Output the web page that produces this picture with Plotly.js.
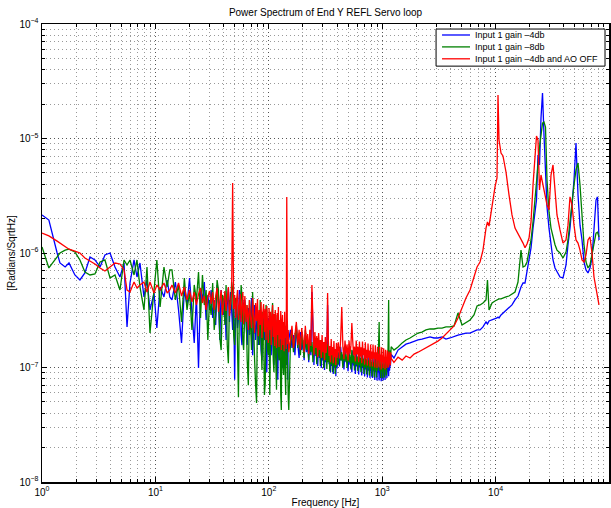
<!DOCTYPE html>
<html>
<head>
<meta charset="utf-8">
<script src="https://cdn.plot.ly/plotly-3.0.1.min.js"></script>
<style>
  html, body { margin: 0; padding: 0; background: #fff; }
  #chart { width: 611px; height: 508px; }
</style>
</head>
<body>
<div id="chart"></div>
<script>
// Frequency bins [Hz], shared by the three measurements
const freqHz = [
  // 1 - 13 Hz
  1, 1.15, 1.36, 1.44, 1.6, 1.73, 1.95, 2.16, 2.39, 2.65, 2.93, 3.25, 3.59, 3.98, 4.4, 4.87,
  5.29, 5.62, 5.97, 6.48, 6.88, 7.31, 7.93, 8.43, 8.96, 9.72, 10.3, 11, 11.9, 12.7, 13.4,
  // 14 - 60 Hz
  14, 15, 16, 17, 18, 19, 20, 21, 22, 23, 24, 25, 26, 27, 28, 29, 30,
  31, 32, 33, 34, 35, 36, 37, 38, 39, 40, 41, 42, 43, 44, 45, 46, 47, 48, 49, 50,
  51, 52, 53, 54, 55, 56, 57, 58, 59, 60,
  // 61.5 - 150 Hz
  61.5, 63, 64.5, 66, 67.5, 69, 70.5, 72, 73.5, 75, 76.5, 78, 79.5, 81, 82.5, 84, 85.5, 87,
  88.5, 90, 91.5, 93, 94.5, 96, 97.5, 99, 100.5, 102, 103.5, 105, 106.5, 108, 109.5, 111,
  112.5, 114, 115.5, 117, 118.5, 120, 121.5, 123, 124.5, 126, 127.5, 129, 130.5, 132, 133.5,
  135, 136.5, 138, 139.5, 141, 142.5, 144, 145.5, 147, 148.5, 150,
  // 155 - 400 Hz
  155, 160, 165, 170, 175, 180, 185, 190, 195, 200, 205, 210, 215, 220, 225, 230, 235, 240,
  245, 250, 255, 260, 265, 270, 275, 280, 285, 290, 295, 300, 305, 310, 315, 320, 325, 330,
  335, 340, 345, 350, 355, 360, 365, 370, 375, 380, 385, 390, 395, 400,
  // 410 - 1200 Hz
  410, 420, 430, 440, 450, 460, 470, 480, 490, 500, 510, 520, 530, 540, 550, 560, 570, 580,
  590, 600, 610, 620, 630, 640, 650, 660, 670, 680, 690, 700, 710, 720, 730, 740, 750, 760,
  770, 780, 790, 800, 810, 820, 830, 840, 850, 860, 870, 880, 890, 900, 910, 920, 930, 940,
  950, 960, 970, 980, 990, 1000, 1010, 1020, 1030, 1040, 1050, 1060, 1070, 1080, 1090, 1100,
  1110, 1120, 1130, 1140, 1150, 1160, 1170, 1180, 1190, 1200,
  // 1.2 - 82 kHz
  1270, 1380, 1500, 1620, 1760, 1910, 2070, 2240, 2430, 2640, 2860, 3100, 3370, 3650, 3960,
  4300, 4660, 5060, 5480, 5950, 6450, 6860, 7290, 7740, 8230, 8480, 8750, 9300, 9880, 10290,
  10500, 10720, 11160, 11620, 12350, 13130, 13950, 14830, 15760, 16750, 17450, 18170, 18920,
  19710, 20530, 21380, 22250, 22940, 23650, 24390, 25140, 25920, 26720, 27540, 28400, 29570,
  30800, 32080, 33410, 34790, 36980, 39300, 41770, 43490, 45300, 47180, 49140, 51170, 53300,
  55510, 57810, 60190, 62690, 65280, 67990, 70800, 73740, 76810, 79180, 81630
];

// Input 1 gain -4db  [Radians/SqrtHz]
const asdGainM4 = [
  // 1 - 13 Hz
  2.15e-6, 1.94e-6, 1.0e-6, 8.18e-7, 7.55e-7, 8.18e-7, 6.43e-7, 5.81e-7, 6.69e-7, 9.23e-7, 8.69e-7,
  7.55e-7, 9.61e-7, 1.0e-6, 7.55e-7, 6.17e-7, 8.18e-7, 2.26e-7, 5.47e-7, 8.69e-7, 6.17e-7, 8.18e-7,
  4.13e-7, 5.81e-7, 3.18e-7, 4.47e-7, 2.21e-7, 5.05e-7, 4.13e-7, 5.81e-7, 4.13e-7,
  // 14 - 60 Hz
  3.89e-7, 5.58e-7, 3.18e-7, 1.64e-7, 4.75e-7, 3.52e-7, 6.05e-7, 3.06e-7, 1.64e-7, 4.21e-7, 9.9e-8,
  4.95e-7, 3.89e-7, 5.58e-7, 2.60e-7, 4.30e-7, 3.18e-7,
  4.75e-7, 2.71e-7, 3.89e-7, 2.35e-7, 5.26e-7, 3.89e-7, 1.74e-7, 4.75e-7, 3.06e-7, 2.88e-7,
  4.30e-7, 1.74e-7, 3.52e-7, 4.95e-7, 2.50e-7, 4.56e-7, 3.18e-7, 2.13e-7, 4.05e-7, 7.8e-8,
  3.52e-7, 3.89e-7, 2.21e-7, 2.71e-7, 4.75e-7, 4.30e-7, 1.92e-7, 1.57e-7, 3.89e-7, 3.18e-7,
  // 61.5 - 150 Hz
  3.89e-7, 2.35e-7, 1.57e-7, 3.31e-7, 1.92e-7, 2.71e-7, 4.05e-7, 1.28e-7, 2.60e-7, 3.52e-7,
  1.74e-7, 2.21e-7, 3.18e-7, 1.57e-7, 2.71e-7, 3.06e-7, 1.42e-7, 1.16e-7, 2.88e-7, 2.50e-7,
  1.74e-7, 1.81e-7, 3.18e-7, 9.1e-8, 2.35e-7, 2.71e-7, 1.48e-7, 1.74e-7, 2.60e-7, 1.28e-7,
  2.13e-7, 2.35e-7, 1.42e-7, 1.05e-7, 2.50e-7, 2.13e-7, 1.28e-7, 1.57e-7, 2.60e-7, 7.8e-8,
  1.92e-7, 2.21e-7, 1.16e-7, 1.42e-7, 2.35e-7, 1.74e-7, 1.11e-7, 9.9e-8, 2.13e-7, 2.04e-7,
  1.21e-7, 1.28e-7, 2.21e-7, 1.57e-7, 1.05e-7, 2.35e-7, 1.74e-7, 7.8e-8, 1.92e-7, 1.74e-7,
  // 155 - 400 Hz
  2.13e-7, 1.48e-7, 1.92e-7, 1.28e-7, 2.21e-7, 1.67e-7, 1.21e-7, 2.04e-7, 1.42e-7, 1.74e-7,
  1.16e-7, 1.92e-7, 1.36e-7, 1.60e-7, 1.11e-7, 1.88e-7, 1.28e-7, 4.56e-7, 1.57e-7, 1.05e-7,
  1.81e-7, 1.26e-7, 1.48e-7, 1.03e-7, 1.74e-7, 1.21e-7, 1.42e-7, 9.9e-8, 1.67e-7, 1.16e-7,
  1.36e-7, 9.5e-8, 1.60e-7, 1.11e-7, 1.31e-7, 3.52e-7, 1.54e-7, 1.07e-7, 1.26e-7, 9.1e-8,
  1.48e-7, 1.03e-7, 1.23e-7, 8.8e-8, 1.45e-7, 1.01e-7, 1.21e-7, 8.4e-8, 1.39e-7, 9.9e-8,
  // 410 - 1200 Hz
  1.36e-7, 1.02e-7, 1.52e-7, 1.15e-7, 1.30e-7, 9.6e-8, 1.47e-7, 1.11e-7, 1.24e-7, 9.3e-8,
  1.43e-7, 1.06e-7, 1.22e-7, 9.1e-8, 1.41e-7, 1.04e-7, 1.20e-7, 8.8e-8, 1.38e-7, 1.02e-7,
  1.18e-7, 8.7e-8, 1.36e-7, 1.00e-7, 1.15e-7, 8.5e-8, 1.32e-7, 9.9e-8, 1.13e-7, 8.4e-8,
  1.30e-7, 9.6e-8, 1.11e-7, 8.2e-8, 1.28e-7, 9.4e-8, 1.09e-7, 8.1e-8, 1.24e-7, 9.3e-8,
  1.06e-7, 8.1e-8, 1.22e-7, 9.3e-8, 1.04e-7, 7.8e-8, 1.20e-7, 9.1e-8, 1.04e-7, 7.7e-8,
  1.20e-7, 9.1e-8, 1.02e-7, 7.7e-8, 1.18e-7, 8.8e-8, 1.02e-7, 7.6e-8, 1.15e-7, 8.8e-8,
  1.00e-7, 7.7e-8, 1.15e-7, 8.7e-8, 1.00e-7, 7.8e-8, 1.13e-7, 8.7e-8, 9.9e-8, 8.1e-8,
  1.15e-7, 9.1e-8, 1.02e-7, 8.4e-8, 1.18e-7, 9.4e-8, 1.06e-7, 1.02e-7, 1.24e-7, 1.30e-7,
  // 1.2 - 82 kHz
  1.21e-7, 1.42e-7, 1.51e-7, 1.60e-7, 1.64e-7, 1.70e-7, 1.74e-7, 1.77e-7, 1.81e-7, 1.85e-7,
  1.81e-7, 1.81e-7, 1.85e-7, 1.77e-7, 1.81e-7, 1.88e-7, 1.92e-7, 1.96e-7, 2.00e-7, 2.00e-7,
  2.08e-7, 2.13e-7, 2.13e-7, 2.26e-7, 2.50e-7, 2.40e-7, 2.55e-7, 2.60e-7, 2.65e-7, 2.71e-7,
  2.76e-7, 2.71e-7, 2.88e-7, 2.99e-7, 3.18e-7, 3.38e-7, 3.52e-7, 3.89e-7, 4.21e-7, 5.05e-7,
  5.47e-7, 5.47e-7, 6.82e-7, 8.35e-7, 1.11e-6, 1.65e-6, 2.15e-6, 2.90e-6, 7.18e-6, 5.87e-6,
  1.51e-5, 2.50e-5, 1.07e-5, 5.31e-6, 2.52e-6, 1.65e-6, 1.18e-6, 8.69e-7, 7.40e-7, 6.82e-7,
  6.17e-7, 6.05e-7, 7.86e-7, 1.18e-6, 1.65e-6, 2.63e-6, 4.34e-6, 9.13e-6, 3.22e-6, 1.75e-6,
  1.30e-6, 8.35e-7, 7.11e-7, 6.69e-7, 7.40e-7, 9.04e-7, 1.59e-6, 2.90e-6, 3.09e-6, 1.30e-6
];

// Input 1 gain -8db  [Radians/SqrtHz]
const asdGainM8 = [
  // 1 - 13 Hz
  1.13e-6, 7.40e-7, 9.23e-7, 1.0e-6, 1.06e-6, 1.08e-6, 1.02e-6, 8.69e-7, 6.82e-7, 6.43e-7, 6.56e-7,
  8.35e-7, 8.69e-7, 6.05e-7, 6.43e-7, 4.75e-7, 8.69e-7, 7.86e-7, 8.69e-7, 6.43e-7, 8.69e-7, 5.05e-7,
  3.18e-7, 7.55e-7, 2.00e-7, 4.75e-7, 8.69e-7, 3.38e-7, 7.55e-7, 5.05e-7, 7.11e-7,
  // 14 - 60 Hz
  7.11e-7, 3.89e-7, 5.26e-7, 2.50e-7, 6.05e-7, 3.18e-7, 4.56e-7, 2.13e-7, 5.26e-7, 3.89e-7, 6.82e-7,
  2.71e-7, 6.43e-7, 3.52e-7, 4.75e-7, 1.74e-7, 3.89e-7,
  2.88e-7, 5.47e-7, 2.13e-7, 2.88e-7, 5.81e-7, 4.75e-7, 1.81e-7, 1.42e-7, 4.30e-7, 3.89e-7,
  2.35e-7, 5.26e-7, 1.57e-7, 1.09e-7, 3.89e-7, 3.18e-7, 5.58e-7, 4.75e-7, 1.92e-7, 1.57e-7,
  4.05e-7, 3.89e-7, 1.16e-7, 5.5e-8, 3.52e-7, 2.88e-7, 5.26e-7, 4.30e-7, 1.74e-7, 1.42e-7,
  // 61.5 - 150 Hz
  3.18e-7, 3.52e-7, 1.16e-7, 7.0e-8, 3.89e-7, 2.60e-7, 1.42e-7, 4.56e-7, 1.92e-7, 1.16e-7,
  7.0e-8, 4.9e-8, 3.18e-7, 2.71e-7, 1.57e-7, 3.89e-7, 1.81e-7, 9.5e-8, 3.06e-7, 2.13e-7,
  5.75e-8, 7.3e-8, 3.52e-7, 3.18e-7, 1.42e-7, 1.28e-7, 2.35e-7, 5.75e-8, 1.74e-7, 2.35e-7,
  3.18e-7, 3.66e-7, 1.16e-7, 9.1e-8, 2.71e-7, 1.74e-7, 1.05e-7, 6.4e-8, 2.88e-7, 2.60e-7,
  1.36e-7, 1.16e-7, 2.13e-7, 1.57e-7, 5.75e-8, 4.25e-8, 2.50e-7, 2.13e-7, 9.9e-8, 8.6e-8,
  1.92e-7, 1.42e-7, 7.8e-8, 5.75e-8, 2.13e-7, 1.74e-7, 1.16e-7, 9.1e-8, 5.4e-8, 4.25e-8,
  // 155 - 400 Hz
  1.57e-7, 2.13e-7, 1.36e-7, 1.81e-7, 2.35e-7, 1.48e-7, 1.92e-7, 1.28e-7, 2.04e-7, 1.57e-7,
  1.21e-7, 2.13e-7, 1.42e-7, 1.74e-7, 1.16e-7, 1.96e-7, 1.36e-7, 1.67e-7, 1.11e-7, 1.88e-7,
  1.31e-7, 1.60e-7, 1.07e-7, 1.81e-7, 1.26e-7, 1.54e-7, 1.03e-7, 1.74e-7, 1.21e-7, 1.48e-7,
  9.9e-8, 1.67e-7, 1.16e-7, 1.42e-7, 9.7e-8, 1.60e-7, 1.11e-7, 1.36e-7, 9.3e-8, 1.54e-7,
  1.07e-7, 1.31e-7, 9.1e-8, 1.48e-7, 1.03e-7, 1.26e-7, 8.8e-8, 1.42e-7, 1.01e-7, 1.23e-7,
  // 410 - 1200 Hz
  1.06e-7, 1.52e-7, 1.15e-7, 1.36e-7, 1.00e-7, 1.50e-7, 1.13e-7, 1.32e-7, 9.9e-8, 1.47e-7,
  1.11e-7, 1.30e-7, 9.6e-8, 1.43e-7, 1.09e-7, 1.28e-7, 9.4e-8, 1.41e-7, 1.06e-7, 1.24e-7,
  9.3e-8, 1.38e-7, 1.04e-7, 1.22e-7, 9.1e-8, 1.36e-7, 1.02e-7, 1.20e-7, 8.8e-8, 1.32e-7,
  1.00e-7, 1.18e-7, 8.7e-8, 1.30e-7, 1.00e-7, 1.15e-7, 8.5e-8, 1.28e-7, 9.9e-8, 1.13e-7,
  8.4e-8, 1.24e-7, 9.6e-8, 1.11e-7, 8.2e-8, 1.24e-7, 9.4e-8, 1.09e-7, 8.2e-8, 1.22e-7,
  9.4e-8, 1.09e-7, 1.59e-7, 2.50e-7, 9.3e-8, 1.06e-7, 8.1e-8, 1.20e-7, 9.3e-8, 1.06e-7,
  8.1e-8, 1.20e-7, 9.4e-8, 1.06e-7, 8.2e-8, 1.22e-7, 9.6e-8, 1.09e-7, 8.5e-8, 1.24e-7,
  1.00e-7, 1.15e-7, 1.76e-7, 3.89e-7, 1.06e-7, 1.24e-7, 1.11e-7, 1.41e-7, 1.30e-7, 1.52e-7,
  // 1.2 - 82 kHz
  1.42e-7, 1.51e-7, 1.64e-7, 1.74e-7, 1.81e-7, 1.92e-7, 2.00e-7, 2.04e-7, 2.13e-7, 2.17e-7,
  2.17e-7, 2.21e-7, 2.21e-7, 2.26e-7, 2.26e-7, 2.31e-7, 2.99e-7, 2.35e-7, 2.45e-7, 2.60e-7,
  2.88e-7, 3.45e-7, 3.52e-7, 3.66e-7, 3.89e-7, 5.81e-7, 3.18e-7, 3.66e-7, 3.81e-7, 3.89e-7,
  3.89e-7, 3.97e-7, 3.97e-7, 4.05e-7, 4.13e-7, 4.21e-7, 4.38e-7, 4.56e-7, 5.58e-7, 1.06e-6,
  7.55e-7, 7.70e-7, 8.35e-7, 1.02e-6, 1.30e-6, 1.87e-6, 2.90e-6, 3.56e-6, 5.87e-6, 8.43e-6,
  1.07e-5, 1.36e-5, 1.39e-5, 1.26e-5, 4.34e-6, 2.29e-6, 1.65e-6, 1.38e-6, 1.18e-6, 1.06e-6,
  1.0e-6, 9.04e-7, 1.02e-6, 1.30e-6, 1.94e-6, 2.90e-6, 3.93e-6, 5.31e-6, 6.11e-6, 3.93e-6,
  2.15e-6, 1.18e-6, 8.35e-7, 7.40e-7, 7.86e-7, 9.61e-7, 1.18e-6, 1.49e-6, 1.52e-6, 1.38e-6
];

// Input 1 gain -4db with AO off  [Radians/SqrtHz]
const asdAoOff = [
  // 1 - 13 Hz
  1.49e-6, 1.41e-6, 1.27e-6, 1.22e-6, 1.13e-6, 1.08e-6, 1.04e-6, 1.0e-6, 9.04e-7, 8.51e-7, 8.02e-7,
  7.40e-7, 6.96e-7, 7.55e-7, 8.18e-7, 8.02e-7, 7.11e-7, 4.75e-7, 4.56e-7, 5.58e-7, 4.95e-7, 5.26e-7,
  5.58e-7, 4.56e-7, 5.58e-7, 4.47e-7, 5.26e-7, 4.75e-7, 5.47e-7, 4.47e-7, 4.75e-7,
  // 14 - 60 Hz
  5.26e-7, 4.47e-7, 5.47e-7, 4.21e-7, 5.05e-7, 3.89e-7, 4.75e-7, 3.74e-7, 4.56e-7, 3.52e-7,
  4.38e-7, 4.95e-7, 3.66e-7, 4.21e-7, 3.18e-7, 4.13e-7, 4.66e-7,
  3.59e-7, 4.56e-7, 3.18e-7, 4.21e-7, 4.95e-7, 3.06e-7, 3.97e-7, 4.75e-7, 2.88e-7, 3.74e-7,
  4.66e-7, 3.12e-7, 4.13e-7, 5.05e-7, 2.82e-7, 3.66e-7, 4.47e-7, 4.09e-6, 3.25e-7, 4.30e-7,
  2.71e-7, 3.89e-7, 4.75e-7, 2.60e-7, 3.52e-7, 4.38e-7, 2.50e-7, 3.81e-7, 4.56e-7, 2.40e-7,
  // 61.5 - 150 Hz
  4.21e-7, 2.50e-7, 3.52e-7, 2.13e-7, 3.89e-7, 2.71e-7, 2.21e-7, 4.05e-7, 2.88e-7, 2.00e-7,
  3.66e-7, 2.55e-7, 3.97e-7, 1.88e-7, 3.18e-7, 2.35e-7, 3.74e-7, 1.81e-7, 2.93e-7, 3.59e-7,
  2.04e-7, 3.25e-7, 1.74e-7, 3.45e-7, 2.40e-7, 1.64e-7, 3.31e-7, 2.13e-7, 3.06e-7, 1.57e-7,
  2.71e-7, 3.52e-7, 1.85e-7, 2.93e-7, 1.54e-7, 3.18e-7, 2.21e-7, 1.48e-7, 2.99e-7, 1.92e-7,
  3.38e-7, 1.51e-7, 2.60e-7, 1.77e-7, 3.12e-7, 1.42e-7, 2.35e-7, 2.88e-7, 1.57e-7, 2.50e-7,
  1.39e-7, 3.06e-7, 1.81e-7, 2.31e-7, 1.45e-7, 3.09e-6, 2.71e-7, 1.60e-7, 2.13e-7, 1.36e-7,
  // 155 - 400 Hz
  1.74e-7, 2.31e-7, 1.48e-7, 2.00e-7, 2.50e-7, 1.57e-7, 2.13e-7, 1.42e-7, 2.21e-7, 1.81e-7,
  1.36e-7, 2.31e-7, 1.60e-7, 1.96e-7, 1.31e-7, 2.13e-7, 1.54e-7, 5.26e-7, 1.81e-7, 1.28e-7,
  2.04e-7, 1.48e-7, 1.88e-7, 1.23e-7, 2.00e-7, 1.42e-7, 1.74e-7, 1.21e-7, 1.92e-7, 1.36e-7,
  1.67e-7, 1.16e-7, 1.85e-7, 1.34e-7, 1.60e-7, 4.47e-7, 1.74e-7, 1.26e-7, 1.54e-7, 1.11e-7,
  1.77e-7, 1.28e-7, 1.51e-7, 1.09e-7, 1.70e-7, 1.23e-7, 1.45e-7, 1.05e-7, 1.64e-7, 1.21e-7,
  // 410 - 1200 Hz
  1.66e-7, 1.20e-7, 1.76e-7, 3.38e-7, 1.52e-7, 1.18e-7, 1.72e-7, 1.30e-7, 1.59e-7, 1.15e-7,
  1.72e-7, 1.30e-7, 1.56e-7, 2.45e-7, 1.69e-7, 1.28e-7, 1.52e-7, 1.13e-7, 1.72e-7, 1.30e-7,
  1.52e-7, 1.11e-7, 1.69e-7, 1.24e-7, 1.50e-7, 1.09e-7, 1.69e-7, 1.28e-7, 1.47e-7, 1.06e-7,
  1.66e-7, 1.20e-7, 1.43e-7, 1.04e-7, 1.62e-7, 1.22e-7, 1.41e-7, 1.02e-7, 1.59e-7, 1.18e-7,
  1.38e-7, 1.02e-7, 1.59e-7, 1.20e-7, 1.36e-7, 1.00e-7, 1.56e-7, 1.18e-7, 1.36e-7, 9.9e-8,
  1.52e-7, 1.15e-7, 1.32e-7, 1.00e-7, 1.52e-7, 1.13e-7, 1.30e-7, 9.6e-8, 1.50e-7, 1.11e-7,
  1.28e-7, 9.9e-8, 1.47e-7, 1.09e-7, 1.24e-7, 9.6e-8, 1.43e-7, 1.13e-7, 1.22e-7, 9.9e-8,
  1.41e-7, 1.11e-7, 1.20e-7, 1.00e-7, 1.38e-7, 1.13e-7, 1.22e-7, 1.04e-7, 1.36e-7, 1.20e-7,
  // 1.2 - 82 kHz
  1.11e-7, 1.23e-7, 1.16e-7, 1.26e-7, 1.21e-7, 1.31e-7, 1.36e-7, 1.42e-7, 1.48e-7, 1.54e-7,
  1.60e-7, 1.70e-7, 1.81e-7, 1.96e-7, 2.13e-7, 2.31e-7, 2.71e-7, 3.31e-7, 4.05e-7, 4.75e-7,
  6.05e-7, 7.55e-7, 8.35e-7, 1.06e-6, 1.65e-6, 1.87e-6, 1.72e-6, 2.63e-6, 3.78e-6, 4.52e-6,
  2.40e-5, 9.7e-6, 7.47e-6, 7.04e-6, 5.10e-6, 3.22e-6, 2.15e-6, 1.65e-6, 1.47e-6, 1.35e-6,
  1.22e-6, 1.11e-6, 1.20e-6, 1.35e-6, 1.87e-6, 3.93e-6, 7.94e-6, 1.05e-5, 9.7e-6, 3.56e-6,
  4.80e-6, 4.09e-6, 3.56e-6, 3.03e-6, 2.63e-6, 2.38e-6, 4.80e-6, 5.87e-6, 3.35e-6, 2.15e-6,
  1.59e-6, 1.22e-6, 1.30e-6, 1.75e-6, 3.09e-6, 2.63e-6, 1.75e-6, 1.30e-6, 1.22e-6, 1.06e-6,
  8.69e-7, 8.35e-7, 9.61e-7, 1.30e-6, 1.38e-6, 1.0e-6, 6.17e-7, 4.75e-7, 4.13e-7, 3.52e-7
];

const seriesNames = ['Input 1 gain \u20134db', 'Input 1 gain \u20138db', 'Input 1 gain \u20134db and AO OFF'];
const seriesColors = ['#0000ff', '#008000', '#ff0000'];

// Decade ticks
const xTickVals = [1, 10, 100, 1000, 10000, 100000];
const xTickText = ['10<sup>0</sup>', '10<sup>1</sup>', '10<sup>2</sup>', '10<sup>3</sup>', '10<sup>4</sup>', '10<sup>5</sup>'];
const yTickVals = [1e-8, 1e-7, 1e-6, 1e-5, 1e-4];
const yTickText = ['10<sup>\u22128</sup>', '10<sup>\u22127</sup>', '10<sup>\u22126</sup>', '10<sup>\u22125</sup>', '10<sup>\u22124</sup>'];

// 2..9 subdivisions of each decade for the minor grid
function decadeSubdivisions(firstDecade, count) {
  const out = [];
  for (let d = 0; d < count; d++) {
    const base = firstDecade * Math.pow(10, d);
    for (let m = 2; m <= 9; m++) out.push(base * m);
  }
  return out;
}

const traces = [asdGainM4, asdGainM8, asdAoOff].map((vals, i) => ({
  type: 'scatter',
  mode: 'lines',
  x: freqHz,
  y: vals,
  name: seriesNames[i],
  line: {color: seriesColors[i], width: 1.3},
  showlegend: false
}));

const axisCommon = {
  type: 'log',
  tickmode: 'array',
  ticks: 'inside',
  ticklen: 5,
  tickwidth: 1,
  tickcolor: '#000',
  showline: true,
  linecolor: '#000',
  linewidth: 1.5,
  mirror: 'ticks',
  showgrid: true,
  gridcolor: '#555',
  gridwidth: 1,
  griddash: '1px,3px',
  zeroline: false,
  tickfont: {size: 10, color: '#000'}
};

// Legend box, drawn in paper coordinates of the plot area
const legendBox = {x0: 0.695, x1: 0.993, y0: 0.908, y1: 0.989};
const legendRows = [0.976, 0.950, 0.924];
const legendLineX = [0.7055, 0.7549];
const legendTextX = 0.7601;

const shapes = [{
  type: 'rect', xref: 'paper', yref: 'paper', layer: 'above',
  x0: legendBox.x0, x1: legendBox.x1, y0: legendBox.y0, y1: legendBox.y1,
  line: {color: '#000', width: 1}, fillcolor: '#fff'
}].concat(legendRows.map((y, i) => ({
  type: 'line', xref: 'paper', yref: 'paper', layer: 'above',
  x0: legendLineX[0], x1: legendLineX[1], y0: y, y1: y,
  line: {color: seriesColors[i], width: 1.3}
})));

const annotations = legendRows.map((y, i) => ({
  xref: 'paper', yref: 'paper', x: legendTextX, y: y,
  xanchor: 'left', yanchor: 'middle', showarrow: false,
  text: seriesNames[i], font: {size: 9, color: '#000'}
}));

const layout = {
  width: 611,
  height: 508,
  margin: {l: 42, r: 2, t: 24, b: 26},
  paper_bgcolor: '#fff',
  plot_bgcolor: '#fff',
  font: {family: '"Liberation Sans", Arial, Helvetica, sans-serif', size: 10, color: '#000'},
  title: {
    text: 'Power Spectrum of End Y REFL Servo loop',
    font: {size: 10, color: '#000'},
    x: 0.5, xref: 'paper', xanchor: 'center',
    y: 0.975, yref: 'container', yanchor: 'middle'
  },
  xaxis: Object.assign({}, axisCommon, {
    range: [0, 5],
    tickvals: xTickVals,
    ticktext: xTickText,
    minor: {tickmode: 'array', tickvals: decadeSubdivisions(1, 5), ticks: 'inside', ticklen: 3,
            tickcolor: '#000', showgrid: true, gridcolor: '#999', griddash: '1px,3px', gridwidth: 1},
    title: {text: 'Frequency [Hz]', font: {size: 10}, standoff: 4}
  }),
  yaxis: Object.assign({}, axisCommon, {
    range: [-8, -4],
    tickvals: yTickVals,
    ticktext: yTickText,
    minor: {tickmode: 'array', tickvals: decadeSubdivisions(1e-8, 4), ticks: 'inside', ticklen: 3,
            tickcolor: '#000', showgrid: true, gridcolor: '#999', griddash: '1px,3px', gridwidth: 1},
    title: {text: '[Radians/SqrtHz]', font: {size: 10}, standoff: 2}
  }),
  shapes: shapes,
  annotations: annotations
};

Plotly.newPlot('chart', traces, layout, {staticPlot: true, displayModeBar: false});
</script>
</body>
</html>
